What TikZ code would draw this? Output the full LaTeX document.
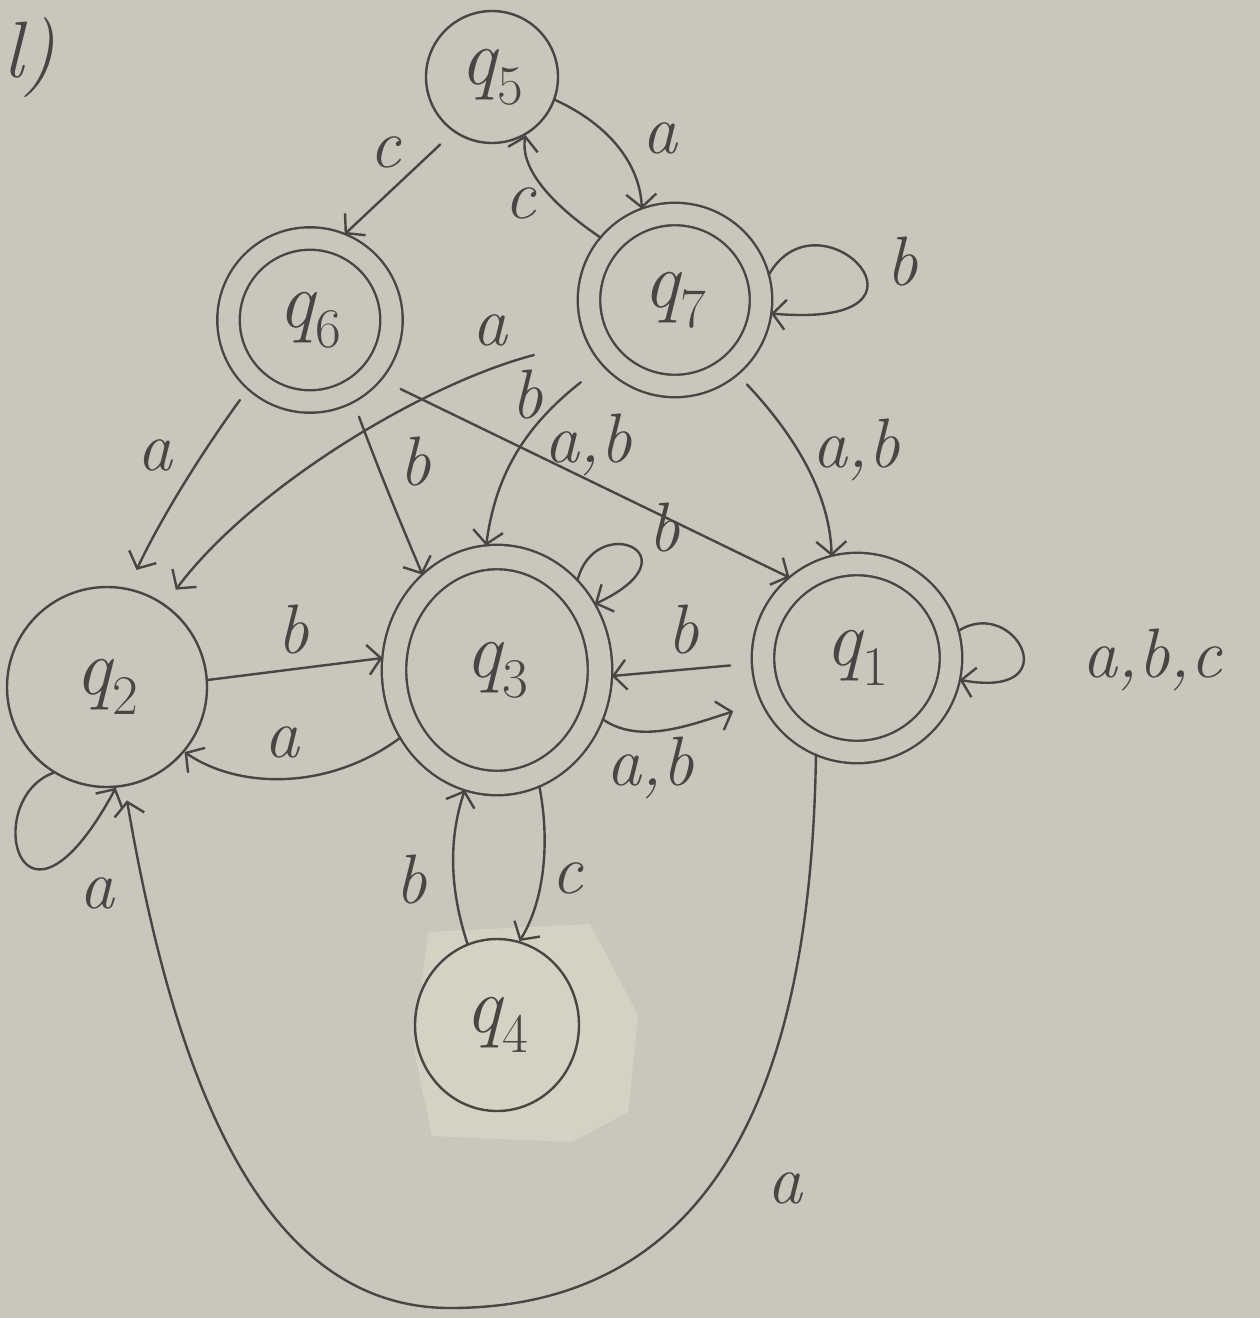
\documentclass[tikz,border=0pt]{standalone}
\usetikzlibrary{arrows.meta,shapes.geometric}
\definecolor{paper}{RGB}{203,198,188}
\definecolor{inkc}{RGB}{72,70,68}
\definecolor{tape}{RGB}{213,210,195}
\newcommand\statefnt{\fontsize{80}{90}\selectfont\itshape}
\newcommand\labfnt{\fontsize{70}{76}\selectfont\itshape}
\newcommand\qsub[1]{q\kern1pt\raisebox{-20pt}{\fontsize{56}{60}\selectfont\upshape #1}}
\tikzset{
  state/.style={circle, draw=inkc, line width=2.4pt, inner sep=0pt, font=\statefnt, text=inkc},
  accept/.style={state, double=paper, double distance=20pt, outer sep=11pt},
  acceptell/.style={ellipse, draw=inkc, line width=2.4pt, inner sep=0pt, font=\statefnt, text=inkc,
     double=paper, double distance=22pt, outer sep=12pt},
  edge/.style={draw=inkc, line width=2.4pt, line cap=round, line join=round,
     -{Straight Barb[length=13pt,width=30pt]}},
  lab/.style={font=\labfnt, text=inkc, inner sep=0pt},
}
\begin{document}
\begin{tikzpicture}[x=1pt,y=-1pt]
\fill[paper] (0,0) rectangle (1260,1318);
\useasboundingbox (0,0) rectangle (1260,1318);
% tape patch behind q4
\fill[tape] (428,932) -- (590,924) -- (638,1015) -- (628,1112) -- (572,1142) -- (432,1136) -- (414,1050) -- cycle;

% title
\node[lab, font=\fontsize{80}{90}\selectfont\itshape] (title) at (30,58) {l)};

% states
\node[state, minimum size=132pt] (q5) at (492,77) {\qsub{5}};
\node[accept, minimum size=163pt] (q6) at (310,320) {\qsub{6}};
\node[accept, minimum size=172pt] (q7) at (675,300) {\qsub{7}};
\node[state, minimum size=200pt] (q2) at (107,687) {\qsub{2}};
\node[acceptell, minimum width=206pt, minimum height=226pt] (q3) at (497,670) {\qsub{3}};
\node[accept, minimum size=188pt] (q1) at (857,658) {\qsub{1}};
\node[state, ellipse, minimum width=164pt, minimum height=172pt] (q4) at (497,1025) {\qsub{4}};

% edges
\draw[edge, shorten <=18pt] (q5.235) -- (q6.68);
\draw[edge] (q5.-20) .. controls (610,125) and (640,165) .. (q7.110);
\draw[edge] (q7.140) .. controls (545,200) and (520,165) .. (q5.-60);
\draw[edge] (q7.15) .. controls (820,185) and (960,330) .. (q7.-8);
\draw[edge, shorten <=14pt, shorten >=20pt] (q6.228) .. controls (200,455) and (160,520) .. (q2.78);
\draw[edge, shorten <=55pt, shorten >=18pt] (q7.205) .. controls (420,385) and (250,490) .. (q2.55);
\draw[edge, shorten <=16pt] (q6.-62) .. controls (375,460) and (395,510) .. (q3.128);
\draw[edge, shorten <=28pt] (q7.222) .. controls (520,430) and (495,480) .. (q3.95);
\draw[edge, shorten <=22pt] (q6.-40) -- (q1.130);
\draw[edge] (q3.48) .. controls (595,510) and (700,555) .. (q3.34);
\draw[edge, shorten <=14pt] (q7.-50) .. controls (790,430) and (830,490) .. (q1.104);
\draw[edge] (q2.4) -- (q3.174);
\draw[edge] (q3.215) .. controls (330,790) and (240,790) .. (q2.-40);
\draw[edge, shorten <=22pt] (q1.183) -- (q3.-3);
\draw[edge, shorten >=30pt] (q3.-25) .. controls (640,745) and (690,725) .. (q1.205);
\draw[edge] (q1.15) .. controls (1015,595) and (1070,700) .. (q1.-12);
\draw[edge] (q3.-70) .. controls (550,840) and (545,900) .. (q4.75);
\draw[edge] (q4.110) .. controls (450,890) and (448,840) .. (q3.-105);
\draw[edge, shorten >=14pt] (q1.-113) .. controls (812,1000) and (760,1308) .. (450,1308)
   .. controls (250,1308) and (170,1050) .. (q2.-80);
\draw[edge] (q2.-122) .. controls (-20,800) and (20,965) .. (q2.-85);

% labels
\node[lab] (l56) at (385,152) {c};
\node[lab] (l57) at (660,138) {a};
\node[lab] (l75) at (520,203) {c};
\node[lab] (l77) at (902,262) {b};
\node[lab] (l62) at (155,455) {a};
\node[lab] (l63) at (415,462) {b};
\node[lab] (l72) at (490,330) {a};
\node[lab] (l73) at (527,395) {b};
\node[lab] (l61) at (588,445) {a,b};
\node[lab] (l33) at (664,528) {b};
\node[lab] (l71) at (856,450) {a,b};
\node[lab] (l23) at (293,630) {b};
\node[lab] (l32) at (282,742) {a};
\node[lab] (l13) at (683,630) {b};
\node[lab] (l31) at (650,768) {a,b};
\node[lab] (l11) at (1152,660) {a,b,c};
\node[lab] (l34) at (567,878) {c};
\node[lab] (l43) at (411,880) {b};
\node[lab] (l22) at (97,893) {a};
\node[lab] (l12) at (785,1188) {a};
\end{tikzpicture}
\end{document}
